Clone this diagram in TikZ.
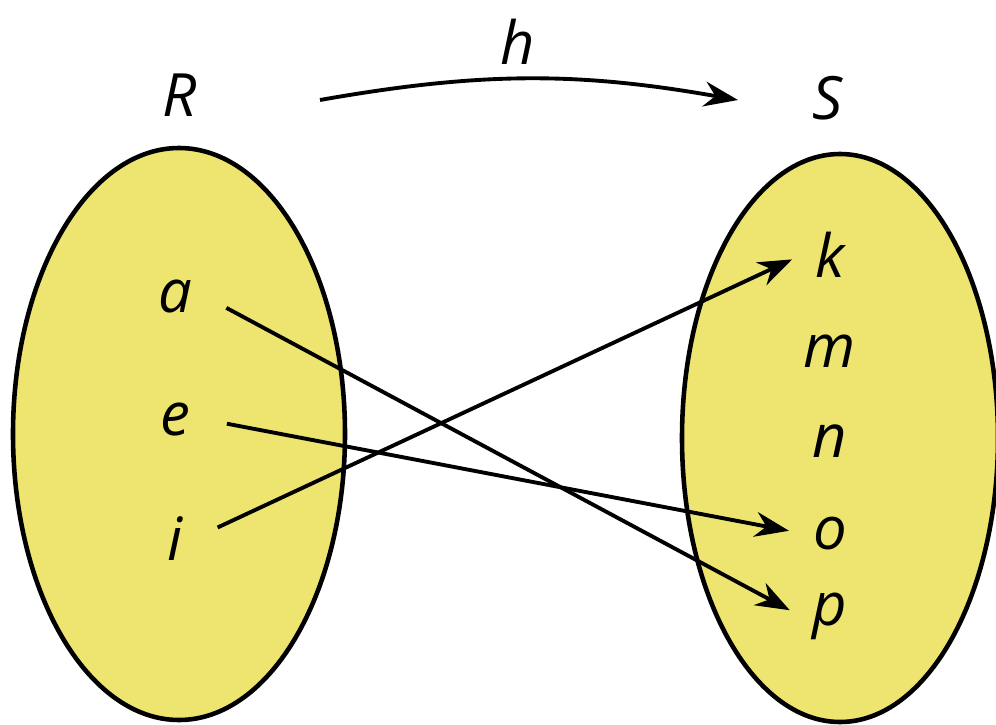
\documentclass[tikz,border=0pt]{standalone}
\usepackage{fontspec}
\setmainfont{Open Sans}
\usepackage{xcolor}
\definecolor{setyellow}{RGB}{238,228,112}
\usetikzlibrary{arrows.meta,positioning}

\begin{document}
\begin{tikzpicture}[
    setbox/.style={fill=setyellow, draw=black, line width=1.3pt},
    elem/.style={anchor=base, font=\fontsize{17}{20}\selectfont\itshape},
    setname/.style={anchor=base, font=\fontsize{17}{20}\selectfont\itshape},
    maparrow/.style={-{Stealth[length=3.4mm,width=2.5mm]}, line width=1.1pt,
                     shorten <=2.5mm, shorten >=1.2mm},
    >=Stealth
  ]
    \useasboundingbox (0,0) rectangle (9.96,7.24);

    % Sets
    \draw[setbox] (1.79,2.90) ellipse [x radius=1.66, y radius=2.86];
    \draw[setbox] (8.40,2.86) ellipse [x radius=1.58, y radius=2.84];

    % Set names and the map
    \node[setname] (R) at (1.80,6.07) {R};
    \node[setname] (S) at (8.28,6.04) {S};
    \coordinate (hs) at (3.20,6.24);
    \coordinate (he) at (7.38,6.24);
    \draw[-{Stealth[length=3.4mm,width=2.5mm]}, line width=1.1pt] (hs) to[bend left=10] (he);
    \node[setname] (h) at (5.18,6.59) {h};

    % Elements of R
    \node[elem] (a) at (1.75,4.12) {a};
    \node[elem] (e) at (1.75,2.89) {e};
    \node[elem] (i) at (1.75,1.64) {i};

    % Elements of S
    \node[elem] (k) at (8.30,4.47) {k};
    \node[elem] (m) at (8.30,3.57) {m};
    \node[elem] (n) at (8.30,2.67) {n};
    \node[elem] (o) at (8.30,1.75) {o};
    \node[elem] (p) at (8.30,0.99) {p};

    % Arrows: R -> S
    \draw[maparrow] (a.east) -- (p.west);
    \draw[maparrow] (e.east) -- (o.west);
    \draw[maparrow] (i.east) -- (k.west);
  \end{tikzpicture}
\end{document}
